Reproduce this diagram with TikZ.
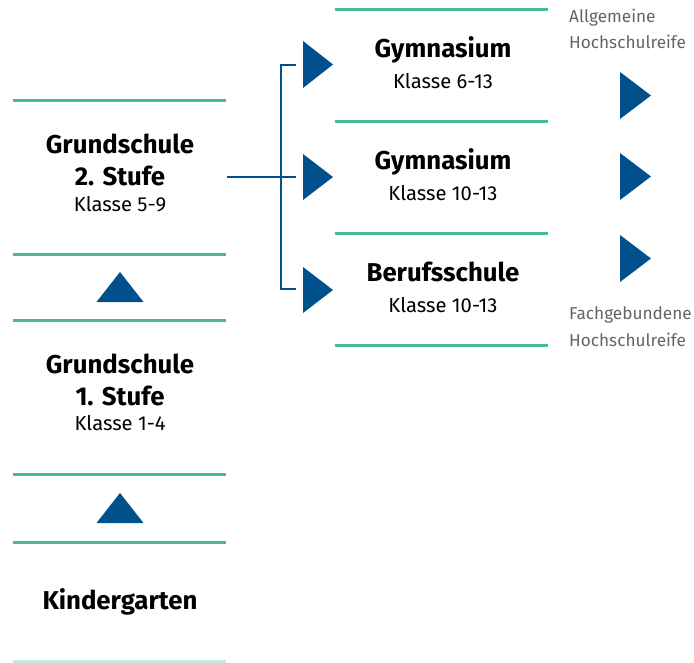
\documentclass[tikz,border=0pt]{standalone}
\usepackage{fontspec}
\setmainfont{Fira Sans}
\definecolor{lgreen}{RGB}{70,190,140}
\definecolor{lfade}{RGB}{200,232,218}
\definecolor{dblue}{RGB}{0,80,140}
\definecolor{tgray}{RGB}{100,100,100}
\begin{document}
\begin{tikzpicture}[x=1pt,y=-1pt,
  sep/.style={draw=lgreen,line width=3pt},
  head/.style={font=\fontsize{25.8}{29}\selectfont\bfseries,inner sep=0pt,anchor=base},
  sub/.style={font=\fontsize{20.2}{24}\selectfont,inner sep=0pt,anchor=base},
  note/.style={font=\fontsize{17.2}{20}\selectfont,text=tgray,inner sep=0pt,anchor=base west},
  tri/.style={fill=dblue},
  link/.style={draw=dblue,line width=2.6pt}]
\useasboundingbox (0,0) rectangle (694,662);
% left column separators
\foreach \y in {100,254,320,474,542}{\draw[sep] (13,\y) -- (226,\y);}
\draw[draw=lfade,line width=3pt] (13,661) -- (226,661);
% right column separators
\foreach \y in {9,121,233,345}{\draw[sep] (335,\y) -- (548,\y);}
% left texts
\node[head] (g2a) at (120,153) {Grundschule};
\node[head] (g2b) at (120,185) {2. Stufe};
\node[sub] (g2c) at (120,211) {Klasse 5-9};
\node[head] (g1a) at (120,373) {Grundschule};
\node[head] (g1b) at (120,405) {1. Stufe};
\node[sub] (g1c) at (120,430) {Klasse 1-4};
\node[head] (kg) at (120,609) {Kindergarten};
% up triangles
\fill[tri] (96.5,302) -- (143.5,302) -- (120,272) -- cycle;
\fill[tri] (96.5,523) -- (143.5,523) -- (120,493) -- cycle;
% right texts
\node[head] (gy1) at (443,57) {Gymnasium};
\node[sub] (gy1k) at (443,88) {Klasse 6-13};
\node[head] (gy2) at (443,169) {Gymnasium};
\node[sub] (gy2k) at (443,200) {Klasse 10-13};
\node[head] (bs) at (443,281) {Berufsschule};
\node[sub] (bsk) at (443,312) {Klasse 10-13};
% bracket
\coordinate (bstart) at (227,177);
\coordinate (btop) at (281,65);
\coordinate (bbot) at (281,289);
\coordinate (e1) at (296,65);
\coordinate (e2) at (296,177);
\coordinate (e3) at (296,289);
\draw[link] (bstart) -- (e2);
\draw[link] (e1) -- (btop) -- (bbot) -- (e3);
% right-pointing triangles
\fill[tri] (303,41) -- (333,64.5) -- (303,88) -- cycle;
\fill[tri] (303,154) -- (333,177) -- (303,200) -- cycle;
\fill[tri] (303,267) -- (333,290) -- (303,313) -- cycle;
\fill[tri] (620,72) -- (651,95.5) -- (620,119) -- cycle;
\fill[tri] (620,153) -- (651,176.5) -- (620,200) -- cycle;
\fill[tri] (620,235) -- (651,258.5) -- (620,282) -- cycle;
% notes
\node[note] (n1) at (569,22) {Allgemeine};
\node[note] (n2) at (569,48) {Hochschulreife};
\node[note] (n3) at (569,319) {Fachgebundene};
\node[note] (n4) at (569,346) {Hochschulreife};
\end{tikzpicture}
\end{document}
